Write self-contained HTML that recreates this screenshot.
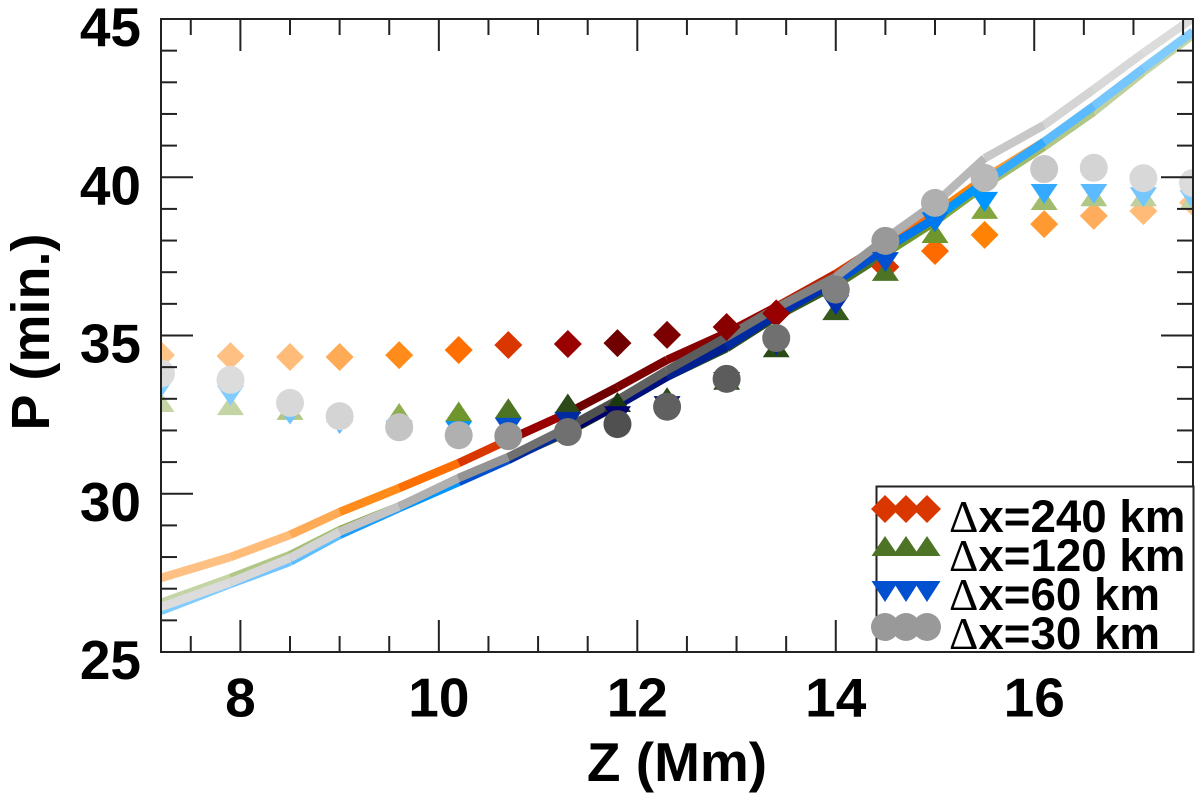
<!DOCTYPE html>
<html>
<head>
<meta charset="utf-8">
<title>Period versus height</title>
<style>
html,body{margin:0;padding:0;background:#fff;width:1200px;height:797px;overflow:hidden}
svg{display:block}
text{font-family:"Liberation Sans",sans-serif;font-weight:bold;fill:#000}
.delta{font-family:"Liberation Serif",serif;font-weight:normal}
</style>
</head>
<body>
<svg id="chart" xmlns="http://www.w3.org/2000/svg" width="1200" height="797" viewBox="0 0 1200 797">
  <defs><clipPath id="plot-clip"><rect x="161" y="19" width="1032" height="633"/></clipPath></defs>
  <rect width="1200" height="797" fill="#fff"/>
  <g id="lines" clip-path="url(#plot-clip)"></g>
  <g id="markers" clip-path="url(#plot-clip)"></g>
  <g id="axes"></g>
  <g>
    <rect x="876.5" y="486.5" width="317" height="165.5" fill="#fff" stroke="#222" stroke-width="2"/>
    <g fill="#d93600">
      <polygon points="871,509 885,495 899,509 885,523"/><polygon points="892,509 906,495 920,509 906,523"/><polygon points="913,509 927,495 941,509 927,523"/>
      <text x="949" y="532" font-size="45.7"><tspan class="delta">Δ</tspan>x=240 km</text>
    </g>
    <g fill="#4d7424">
      <polygon points="871.5,556 885,536 898.5,556"/><polygon points="892.5,556 906,536 919.5,556"/><polygon points="913.5,556 927,536 940.5,556"/>
      <text x="949" y="571" font-size="45.7"><tspan class="delta">Δ</tspan>x=120 km</text>
    </g>
    <g fill="#0050d0">
      <polygon points="871.5,581 898.5,581 885,602"/><polygon points="892.5,581 919.5,581 906,602"/><polygon points="913.5,581 940.5,581 927,602"/>
      <text x="949" y="610" font-size="45.7"><tspan class="delta">Δ</tspan>x=60 km</text>
    </g>
    <g fill="#999">
      <circle cx="885" cy="627" r="14"/><circle cx="906" cy="627" r="14"/><circle cx="927" cy="627" r="14"/>
      <text x="949" y="649" font-size="45.7"><tspan class="delta">Δ</tspan>x=30 km</text>
    </g>
    <line x1="161" y1="652" x2="1193" y2="652" stroke="#222" stroke-width="2"/>
  </g>
  <text x="677" y="781" font-size="55" text-anchor="middle">Z (Mm)</text>
  <text transform="translate(49,332) rotate(-90)" font-size="54" text-anchor="middle">P (min.)</text>
</svg>
<script>
const heights = [7.2,7.9,8.5,9,9.6,10.2,10.7,11.3,11.8,12.3,12.9,13.4,14,14.5,15,15.5,16.1,16.6,17.1,17.6];

const line240 = [27.34,28.0,28.7,29.42,30.18,30.97,31.7,32.55,33.37,34.23,35.08,35.9,36.95,37.95,38.85,39.97,41.12,42.25,43.44,44.6];
const line120 = [26.55,27.34,28.06,28.85,29.6,30.45,31.1,31.95,32.8,33.7,34.6,35.6,36.6,37.6,38.6,39.75,40.97,42.07,43.33,44.5];
const line60 = [26.3,27.15,27.85,28.7,29.55,30.37,31.07,32.0,32.8,33.7,34.65,35.65,36.7,37.75,38.7,39.85,41.12,42.25,43.44,44.6];
const line30 = [26.42,27.2,27.97,28.8,29.6,30.5,31.16,32.1,32.96,33.9,34.95,35.87,36.85,38.05,39.17,40.6,41.65,42.78,43.93,45.03];

const points240 = [34.38,34.35,34.32,34.32,34.38,34.54,34.7,34.73,34.76,35.02,35.27,35.7,36.45,37.17,37.67,38.18,38.52,38.78,38.93,39.2];
const points120 = [32.9,32.8,32.65,32.58,32.55,32.6,32.7,32.85,32.9,33.05,33.6,34.63,35.8,37.04,38.24,39.0,39.28,39.4,39.4,39.3];
const points60 = [33.35,33.1,32.5,32.2,32.0,31.98,32.08,32.27,32.45,32.77,33.53,34.7,35.96,37.32,38.58,39.22,39.47,39.47,39.37,39.28];
const points30 = [33.8,33.6,32.87,32.45,32.1,31.85,31.82,31.95,32.2,32.75,33.63,34.92,36.45,37.99,39.19,39.98,40.26,40.3,39.97,39.82];

const colors240 = ['#ffc488','#ffc084','#ffbc78','#ffaa55','#ff8c1a','#ff6e00','#d93600','#990000','#700000','#7c0000','#880000','#990000','#bb2000','#d93600','#ff6a00','#ff8205','#ff9a33','#ffad5c','#ffbb77','#ffc488'];
const colors120 = ['#c5d4a5','#c5d4a5','#b0c785','#a5bf75','#90ae52','#6f962c','#4d7424','#2c4a18','#1c3810','#2a4a18','#2c4a18','#2c4a18','#365a1c','#4d7424','#6f962c','#84a53c','#a0bb6c','#b0c785','#bfd09c','#c5d4a5'];
const colors60 = ['#80ccff','#80ccff','#70c4ff','#5cbdff','#1a9cff','#0096ff','#0050d0','#002aa0','#000070','#00107f','#001f90','#002aa0','#0030b0','#0050d0','#0078f0','#0096ff','#33aaff','#5cbbff','#75c5ff','#80ccff'];
const colors30 = ['#dcdcdc','#dcdcdc','#d8d8d8','#d4d4d4','#c4c4c4','#b0b0b0','#949494','#707070','#505050','#606060','#5c5c5c','#707070','#808080','#999999','#afafaf','#b8b8b8','#c8c8c8','#d4d4d4','#d8d8d8','#dcdcdc'];

const xTickLabels = [8,10,12,14,16];
const xMinorTicks = [7.5,8.5,9,9.5,10.5,11,11.5,12.5,13,13.5,14.5,15,15.5,16.5,17,17.5];
const yTickLabels = [25,30,35,40,45];
const yMinorTicks = [26,27,28,29,31,32,33,34,36,37,38,39,41,42,43,44];

const SVGNS = 'http://www.w3.org/2000/svg';
const L = 161, R = 1193, T = 19, B = 652;
const X_MIN = 7.2, X_MAX = 17.6, Y_MIN = 25, Y_MAX = 45;
function xScale(v){ return L + (v - X_MIN) / (X_MAX - X_MIN) * (R - L); }
function yScale(v){ return B - (v - Y_MIN) / (Y_MAX - Y_MIN) * (B - T); }
function make(tag, parent){
  const el = document.createElementNS(SVGNS, tag);
  parent.appendChild(el);
  return el;
}

const linesGroup = document.getElementById('lines');
const markersGroup = document.getElementById('markers');
const axesGroup = document.getElementById('axes');

function drawLine(values, colors, label){
  for (let i = 1; i < values.length; i++){
    const seg = make('line', linesGroup);
    
    
    seg.setAttribute('x1', xScale(heights[i-1]));
    seg.setAttribute('y1', yScale(values[i-1]));
    seg.setAttribute('x2', xScale(heights[i]));
    seg.setAttribute('y2', yScale(values[i]));
    seg.setAttribute('stroke', colors[i]);
    seg.setAttribute('stroke-width', '8.5');
    seg.setAttribute('stroke-linecap', 'butt');
  }
}
drawLine(line240, colors240, '240-km');
drawLine(line120, colors120, '120-km');
drawLine(line60, colors60, '60-km');
drawLine(line30, colors30, '30-km');

points240.forEach(function(v, i){
  const cx = xScale(heights[i]), cy = yScale(v);
  const m = make('polygon', markersGroup);
  
  
  m.setAttribute('points', (cx-14)+','+cy+' '+cx+','+(cy-14)+' '+(cx+14)+','+cy+' '+cx+','+(cy+14));
  m.setAttribute('fill', colors240[i]);
});
points120.forEach(function(v, i){
  const cx = xScale(heights[i]), cy = yScale(v);
  const m = make('polygon', markersGroup);
  
  
  m.setAttribute('points', (cx-13.5)+','+(cy+10)+' '+cx+','+(cy-10)+' '+(cx+13.5)+','+(cy+10));
  m.setAttribute('fill', colors120[i]);
});
points60.forEach(function(v, i){
  const cx = xScale(heights[i]), cy = yScale(v);
  const m = make('polygon', markersGroup);
  
  
  m.setAttribute('points', (cx-13.5)+','+(cy-10)+' '+(cx+13.5)+','+(cy-10)+' '+cx+','+(cy+10));
  m.setAttribute('fill', colors60[i]);
});
points30.forEach(function(v, i){
  const m = make('circle', markersGroup);
  
  
  m.setAttribute('cx', xScale(heights[i]));
  m.setAttribute('cy', yScale(v));
  m.setAttribute('r', '14');
  m.setAttribute('fill', colors30[i]);
});

function tick(x1, y1, x2, y2, name){
  const t = make('line', axesGroup);
  
  
  t.setAttribute('x1', x1);
  t.setAttribute('y1', y1);
  t.setAttribute('x2', x2);
  t.setAttribute('y2', y2);
  t.setAttribute('stroke', '#222');
  t.setAttribute('stroke-width', '2');
}
const frame = make('rect', axesGroup);


frame.setAttribute('x', L);
frame.setAttribute('y', T);
frame.setAttribute('width', R - L);
frame.setAttribute('height', B - T);
frame.setAttribute('fill', 'none');
frame.setAttribute('stroke', '#222');
frame.setAttribute('stroke-width', '2');

xMinorTicks.forEach(function(v){
  const x = xScale(v);
  tick(x, B, x, B - 16, 'x-minor-tick');
  tick(x, T, x, T + 16, 'x-minor-tick-top');
});
yMinorTicks.forEach(function(v){
  const y = yScale(v);
  tick(L, y, L + 16, y, 'y-minor-tick');
  tick(R, y, R - 16, y, 'y-minor-tick-right');
});
xTickLabels.forEach(function(v){
  const x = xScale(v);
  tick(x, B, x, B - 32, 'x-major-tick');
  tick(x, T, x, T + 32, 'x-major-tick-top');
  const label = make('text', axesGroup);
  
  
  label.setAttribute('x', x);
  label.setAttribute('y', 716.5);
  label.setAttribute('font-size', '55');
  label.setAttribute('text-anchor', 'middle');
  label.textContent = v;
});
yTickLabels.forEach(function(v){
  const y = yScale(v);
  tick(L, y, L + 32, y, 'y-major-tick');
  tick(R, y, R - 32, y, 'y-major-tick-right');
  const label = make('text', axesGroup);
  
  
  label.setAttribute('x', 141);
  label.setAttribute('y', y + 27);
  label.setAttribute('font-size', '55');
  label.setAttribute('text-anchor', 'end');
  label.textContent = v;
});
</script>
</body>
</html>
